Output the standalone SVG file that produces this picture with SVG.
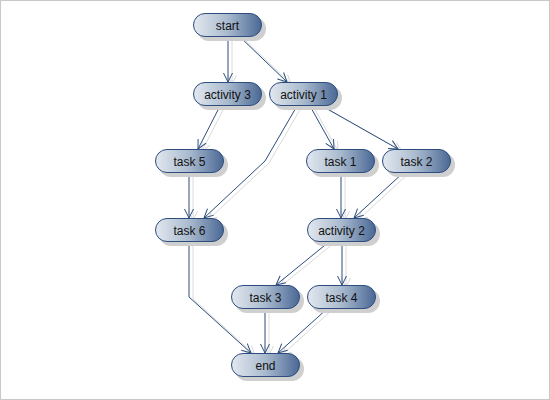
<svg xmlns="http://www.w3.org/2000/svg" width="550" height="400" viewBox="0 0 550 400">
<defs>
<linearGradient id="g" x1="0" y1="0" x2="1" y2="0">
<stop offset="0" stop-color="#e2e8ef"/>
<stop offset="0.5" stop-color="#a9bace"/>
<stop offset="1" stop-color="#4a6895"/>
</linearGradient>
<marker id="a" viewBox="-10 -6 12 12" refX="0" refY="0" markerWidth="12" markerHeight="12" markerUnits="userSpaceOnUse" orient="auto">
<path d="M-9,-4.5 L0,0 L-9,4.5" fill="none" stroke="#2c4d7d" stroke-width="1"/>
</marker>
<marker id="as" viewBox="-10 -6 12 12" refX="0" refY="0" markerWidth="12" markerHeight="12" markerUnits="userSpaceOnUse" orient="auto">
<path d="M-9,-4.5 L0,0 L-9,4.5" fill="none" stroke="#d8d8d8" stroke-width="1"/>
</marker>
</defs>
<style>
.n rect.b{fill:url(#g);stroke:#2c4d7d;stroke-width:1}
.n rect.s{fill:#cfcfcf}
.n text{font-family:"Liberation Sans",Arial,sans-serif;font-size:12px;fill:#111;text-anchor:middle}
.e path{fill:none;stroke:#2c4d7d;stroke-width:1;marker-end:url(#a)}
.sh path{fill:none;stroke:#dadada;stroke-width:1;marker-end:url(#as)}
</style>
<rect x="0.5" y="0.5" width="549" height="399" fill="#fff" stroke="#c8c8c8"/>
<g id="connector-shadows" class="sh" transform="translate(4,2)">
<path d="M228,37 L228,82"/>
<path d="M240,37 L287,82"/>
<path d="M220,106 L198,149"/>
<path d="M297,106 L265,161 L204,218"/>
<path d="M189,172 L189,218"/>
<path d="M310,106 L334,149"/>
<path d="M322,106 L398,149"/>
<path d="M341,172 L341,218"/>
<path d="M404,172 L354,218"/>
<path d="M330,241 L276,285"/>
<path d="M342,241 L342,285"/>
<path d="M189,241 L189,297 L251,353"/>
<path d="M265,308 L265,353"/>
<path d="M328,308 L278,353"/>
</g>
<g id="connectors" class="e">
<path d="M228,37 L228,82"/>
<path d="M240,37 L287,82"/>
<path d="M220,106 L198,149"/>
<path d="M297,106 L265,161 L204,218"/>
<path d="M189,172 L189,218"/>
<path d="M310,106 L334,149"/>
<path d="M322,106 L398,149"/>
<path d="M341,172 L341,218"/>
<path d="M404,172 L354,218"/>
<path d="M330,241 L276,285"/>
<path d="M342,241 L342,285"/>
<path d="M189,241 L189,297 L251,353"/>
<path d="M265,308 L265,353"/>
<path d="M328,308 L278,353"/>
</g>
<g id="start" class="n"><rect class="s" x="197" y="17" width="69" height="24" rx="12"/><rect class="b" x="193.5" y="13.5" width="68" height="23" rx="11.5"/><text x="227.5" y="29.5">start</text></g>
<g id="activity3" class="n"><rect class="s" x="197" y="86" width="69" height="24" rx="12"/><rect class="b" x="193.5" y="82.5" width="68" height="23" rx="11.5"/><text x="227.5" y="98.5">activity 3</text></g>
<g id="activity1" class="n"><rect class="s" x="273" y="86" width="69" height="24" rx="12"/><rect class="b" x="269.5" y="82.5" width="68" height="23" rx="11.5"/><text x="303.5" y="98.5">activity 1</text></g>
<g id="task5" class="n"><rect class="s" x="159" y="153" width="69" height="24" rx="12"/><rect class="b" x="155.5" y="149.5" width="68" height="23" rx="11.5"/><text x="189.5" y="165.5">task 5</text></g>
<g id="task1" class="n"><rect class="s" x="310" y="153" width="69" height="24" rx="12"/><rect class="b" x="306.5" y="149.5" width="68" height="23" rx="11.5"/><text x="340.5" y="165.5">task 1</text></g>
<g id="task2" class="n"><rect class="s" x="386" y="153" width="69" height="24" rx="12"/><rect class="b" x="382.5" y="149.5" width="68" height="23" rx="11.5"/><text x="416.5" y="165.5">task 2</text></g>
<g id="task6" class="n"><rect class="s" x="159" y="222" width="69" height="24" rx="12"/><rect class="b" x="155.5" y="218.5" width="68" height="23" rx="11.5"/><text x="189.5" y="234.5">task 6</text></g>
<g id="activity2" class="n"><rect class="s" x="311" y="222" width="69" height="24" rx="12"/><rect class="b" x="307.5" y="218.5" width="68" height="23" rx="11.5"/><text x="341.5" y="234.5">activity 2</text></g>
<g id="task3" class="n"><rect class="s" x="235" y="289" width="69" height="24" rx="12"/><rect class="b" x="231.5" y="285.5" width="68" height="23" rx="11.5"/><text x="265.5" y="301.5">task 3</text></g>
<g id="task4" class="n"><rect class="s" x="311" y="289" width="69" height="24" rx="12"/><rect class="b" x="307.5" y="285.5" width="68" height="23" rx="11.5"/><text x="341.5" y="301.5">task 4</text></g>
<g id="end" class="n"><rect class="s" x="235" y="357" width="69" height="24" rx="12"/><rect class="b" x="231.5" y="353.5" width="68" height="23" rx="11.5"/><text x="265.5" y="369.5">end</text></g>
</svg>
